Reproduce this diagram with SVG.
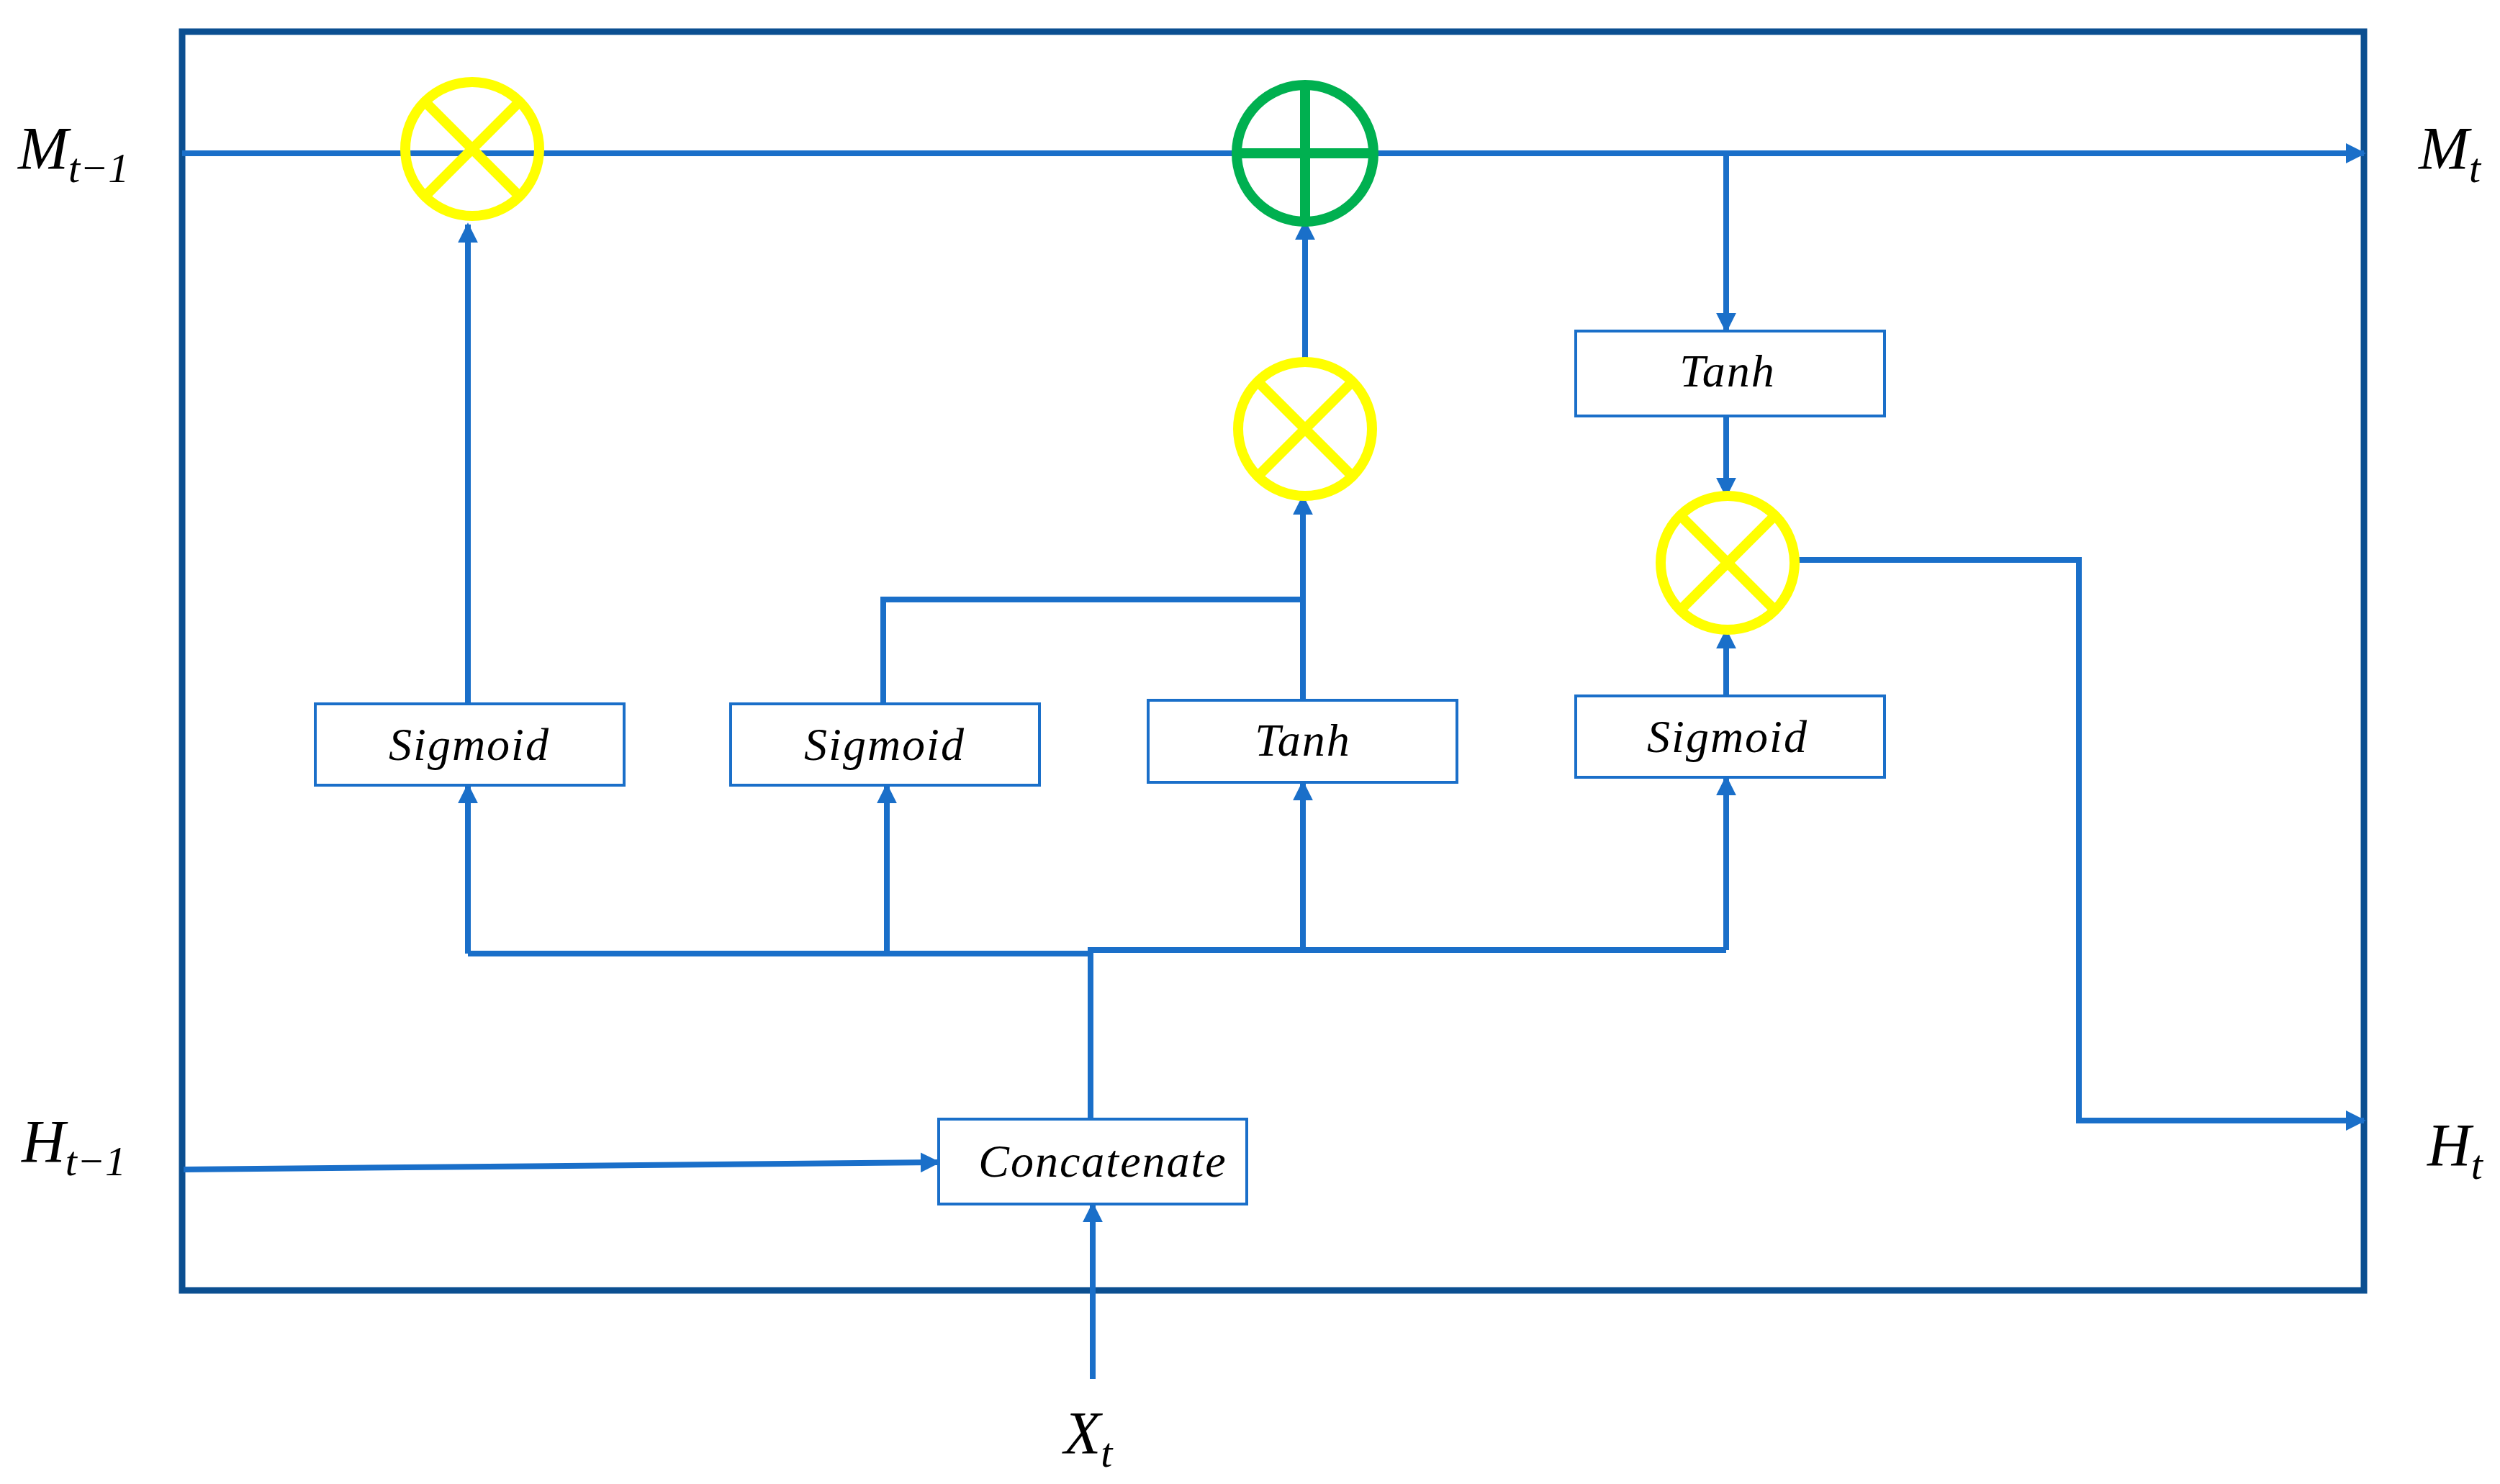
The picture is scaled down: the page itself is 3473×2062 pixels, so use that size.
<svg xmlns="http://www.w3.org/2000/svg" width="3473" height="2062" viewBox="0 0 3473 2062">
<style>
.c{fill:none;stroke:#1a6fc9;stroke-width:8}
.b{fill:#fff;stroke:#1a6fc9;stroke-width:4}
.y{fill:none;stroke:#ffff00;stroke-width:14}
.g{fill:none;stroke:#00b050;stroke-width:14}
.t{font-family:"Liberation Serif","DejaVu Serif",serif;font-style:italic;font-size:64px;letter-spacing:2px;fill:#000;text-anchor:middle}
.l{font-family:"Liberation Serif","DejaVu Serif",serif;font-style:italic;font-size:84px;fill:#000}
.s{font-size:58px}
</style>
<defs><marker id="a" viewBox="0 0 10 10" refX="9" refY="5" markerWidth="3.5" markerHeight="3.5" orient="auto" markerUnits="strokeWidth"><path d="M0,0L10,5L0,10z" fill="#1a6fc9"/></marker></defs>
<rect id="frame" x="253" y="44" width="3031" height="1749" fill="none" stroke="#0b4f91" stroke-width="9"/>
<g id="connectors">
<path class="c" d="M253,213H3284" marker-end="url(#a)"/>
<path class="c" d="M650,978V312" marker-end="url(#a)"/>
<path class="c" d="M1227,978V833H1810"/>
<path class="c" d="M1810,973V690" marker-end="url(#a)"/>
<path class="c" d="M1813,503V308" marker-end="url(#a)"/>
<path class="c" d="M2398,213V460" marker-end="url(#a)"/>
<path class="c" d="M2398,578V689" marker-end="url(#a)"/>
<path class="c" d="M2398,967V876" marker-end="url(#a)"/>
<path class="c" d="M2493,778H2888V1557H3284" marker-end="url(#a)"/>
<path class="c" d="M650,1325H1515V1320H2398"/>
<path class="c" d="M650,1325V1091" marker-end="url(#a)"/>
<path class="c" d="M1232,1325V1091" marker-end="url(#a)"/>
<path class="c" d="M1810,1320V1087" marker-end="url(#a)"/>
<path class="c" d="M2398,1320V1080" marker-end="url(#a)"/>
<path class="c" d="M1515,1555V1320"/>
<path class="c" d="M255,1625L1304,1615" marker-end="url(#a)"/>
<path class="c" d="M1518,1916V1673" marker-end="url(#a)"/>
</g>
<g id="mul1"><circle class="y" cx="656" cy="207" r="93"/><path class="y" d="M590,141L722,273M722,141L590,273"/></g>
<g id="add"><circle class="g" cx="1813" cy="213" r="95"/><path class="g" d="M1813,118V308M1718,213H1908"/></g>
<g id="mul2"><circle class="y" cx="1813" cy="596" r="93"/><path class="y" d="M1747,530L1879,662M1879,530L1747,662"/></g>
<g id="mul3"><circle class="y" cx="2400" cy="782" r="93"/><path class="y" d="M2334,716L2466,848M2466,716L2334,848"/></g>
<g id="sig1"><rect class="b" x="438" y="978" width="429" height="113"/><text class="t" x="652" y="1056">Sigmoid</text></g>
<g id="sig2"><rect class="b" x="1015" y="978" width="429" height="113"/><text class="t" x="1229" y="1056">Sigmoid</text></g>
<g id="tanh1"><rect class="b" x="1595" y="973" width="429" height="114"/><text class="t" x="1810" y="1050">Tanh</text></g>
<g id="sig3"><rect class="b" x="2189" y="967" width="429" height="113"/><text class="t" x="2400" y="1045">Sigmoid</text></g>
<g id="tanh2"><rect class="b" x="2189" y="460" width="429" height="118"/><text class="t" x="2400" y="537">Tanh</text></g>
<g id="concat"><rect class="b" x="1304" y="1555" width="428" height="118"/><text class="t" x="1532" y="1635">Concatenate</text></g>
<g id="labels">
<text class="l" x="25" y="235">M<tspan class="s" dy="18">t−1</tspan></text>
<text class="l" x="3360" y="235">M<tspan class="s" dy="18">t</tspan></text>
<text class="l" x="30" y="1615">H<tspan class="s" dy="18">t−1</tspan></text>
<text class="l" x="3372" y="1620">H<tspan class="s" dy="18">t</tspan></text>
<text class="l" x="1478" y="2020">X<tspan class="s" dy="18">t</tspan></text>
</g>
</svg>
